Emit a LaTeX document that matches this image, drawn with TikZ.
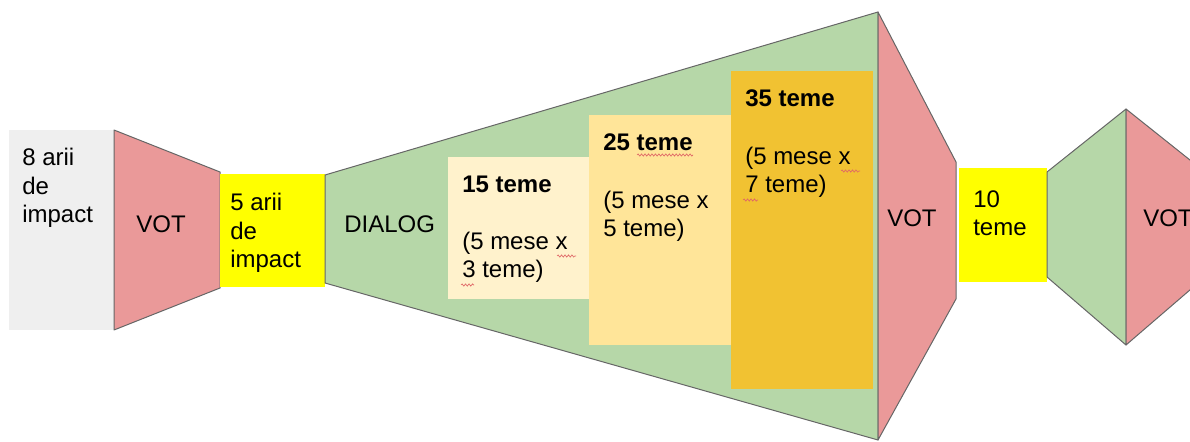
\documentclass[tikz,border=0pt]{standalone}
\usepackage{fontspec}
\setmainfont{Liberation Sans}
\usetikzlibrary{decorations.pathmorphing}
\definecolor{areagray}{HTML}{EFEFEF}
\definecolor{votred}{HTML}{EA9999}
\definecolor{dialoggreen}{HTML}{B6D7A8}
\definecolor{themeyellow}{HTML}{FFFF00}
\definecolor{stageone}{HTML}{FFF2CC}
\definecolor{stagetwo}{HTML}{FFE599}
\definecolor{stagethree}{HTML}{F1C232}
\definecolor{edgegray}{HTML}{666666}
\definecolor{spellred}{HTML}{E06666}
\begin{document}
\begin{tikzpicture}[x=0.75pt, y=-0.75pt,
    funnel/.style={draw=edgegray, line width=0.75pt, line join=round},
    lbl/.style={anchor=base west, align=left, inner sep=0pt, font=\fontsize{18}{21.5}\selectfont},
    squiggle/.style={draw=spellred, line width=0.5pt, decorate,
      decoration={snake, amplitude=0.8pt, segment length=2.6pt}}]
  \useasboundingbox (0,0) rectangle (1190,442);
  % areas and first vote
  \fill[areagray] (9,130) rectangle (114,330);
  \filldraw[funnel, fill=votred] (114,130) -- (220,172) -- (220,288) -- (114,330) -- cycle;
  \fill[themeyellow] (220,174) rectangle (325,287);
  % dialog funnel
  \filldraw[funnel, fill=dialoggreen] (325,175) -- (878,12) -- (878,440) -- (325,283) -- cycle;
  \fill[stageone] (448,157) rectangle (589,299);
  \fill[stagetwo] (589,115) rectangle (731,345);
  \fill[stagethree] (731,71) rectangle (873,389);
  % second vote
  \filldraw[funnel, fill=votred] (878,12) -- (956,162) -- (956,299) -- (878,440) -- cycle;
  \fill[themeyellow] (959,168) rectangle (1047,282);
  \filldraw[funnel, fill=dialoggreen] (1047,172) -- (1126,109) -- (1126,345) -- (1047,277) -- cycle;
  \filldraw[funnel, fill=votred] (1126,109) -- (1205,172) -- (1205,277) -- (1126,345) -- cycle;

  % labels, placed by the baseline of their last line
  \node[lbl] (arii8) at (22,223) {8 arii\\de\\impact};
  \node[lbl, anchor=base] (vot1) at (161,233) {VOT};
  \node[lbl] (arii5) at (230,268) {5 arii\\de\\impact};
  \node[lbl] (dialog) at (344,233) {DIALOG};
  \node[lbl] (teme15) at (462,278) {\textbf{15 teme}\\[21.5pt](5 mese x\\3 teme)};
  \node[lbl] (teme25) at (603,237) {\textbf{25 teme}\\[21.5pt](5 mese x\\5 teme)};
  \node[lbl] (teme35) at (745,193) {\textbf{35 teme}\\[21.5pt](5 mese x\\7 teme)};
  \node[lbl] (vot2) at (887,227) {VOT};
  \node[lbl] (teme10) at (973,236) {10\\teme};
  \node[lbl] (vot3) at (1143,227) {VOT};

  % spelling marks
  \draw[squiggle] (557,256) -- (576,256);
  \draw[squiggle] (461,285) -- (474,285);
  \draw[squiggle] (637,155) -- (693,155);
  \draw[squiggle] (841,171) -- (860,171);
  \draw[squiggle] (743,200) -- (758,200);
\end{tikzpicture}
\end{document}
